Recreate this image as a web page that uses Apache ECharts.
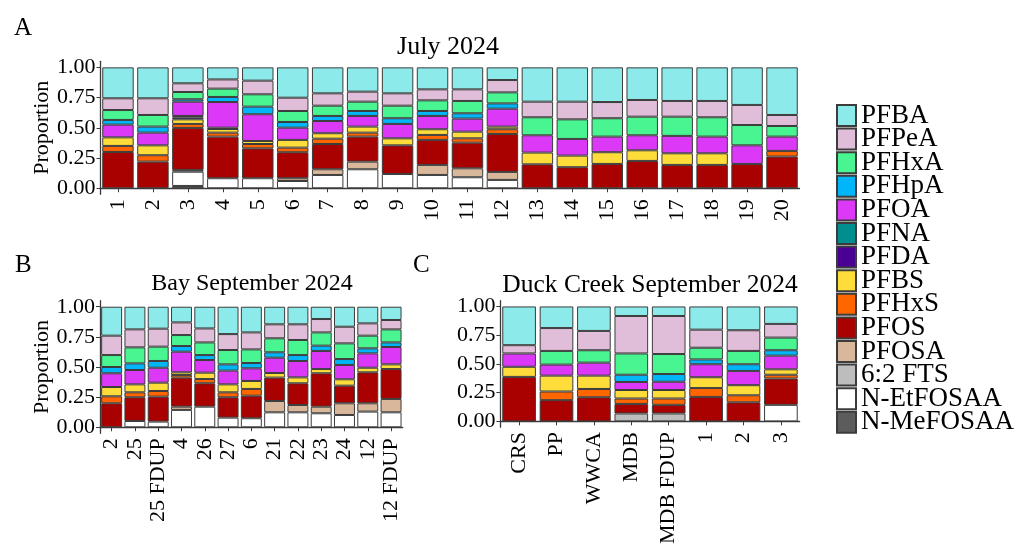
<!DOCTYPE html>
<html>
<head>
<meta charset="utf-8">
<script src="https://cdn.jsdelivr.net/npm/echarts@6/dist/echarts.min.js"></script>
<style>
  html, body { margin: 0; padding: 0; background: #ffffff; }
  #chart { width: 1016px; height: 547px; }
</style>
</head>
<body>
<div id="chart"></div>
<script>
// Compounds, listed from the top of each stack to the bottom
const compounds = ['PFBA', 'PFPeA', 'PFHxA', 'PFHpA', 'PFOA', 'PFNA', 'PFDA', 'PFBS',
  'PFHxS', 'PFOS', 'PFOSA', '6:2 FTS', 'N-EtFOSAA', 'N-MeFOSAA'];
const compoundColors = ['#8ceaea', '#e0bdd8', '#48f590', '#00b5f8', '#dc38f8', '#008e8e',
  '#4b0094', '#fedc3a', '#ff6600', '#a90000', '#d9b79a', '#bdbdbd', '#ffffff', '#5c5c5c'];
const proportionTicks = [0, 0.25, 0.5, 0.75, 1];

// A: July 2024
const julySites = ['1', '2', '3', '4', '5', '6', '7', '8', '9', '10',
  '11', '12', '13', '14', '15', '16', '17', '18', '19', '20'];
const julyPFBA  = [.256, .256, .132, .100, .110, .251, .215, .201, .215, .182, .182, .105, .284, .284, .287, .270, .278, .278, .311, .394];
const julyPFPeA = [.097, .138, .072, .076, .113, .110, .102, .083, .102, .091, .096, .102, .129, .146, .134, .138, .130, .135, .166, .091];
const julyPFHxA = [.082, .096, .060, .069, .102, .091, .085, .077, .104, .088, .102, .091, .149, .162, .152, .154, .159, .160, .168, .088];
const julyPFHpA = [.039, .050, .020, .042, .063, .047, .042, .041, .047, .041, .044, .044, 0, 0, 0, 0, 0, 0, 0, 0];
const julyPFOA  = [.105, .105, .118, .212, .221, .101, .101, .088, .119, .110, .108, .148, .143, .138, .129, .124, .144, .138, .154, .118];
const julyPFNA  = [0, 0, .012, 0, 0, 0, 0, 0, 0, 0, 0, 0, 0, 0, 0, 0, 0, 0, 0, 0];
const julyPFDA  = [0, 0, .016, .011, 0, 0, 0, 0, 0, 0, 0, 0, 0, 0, 0, 0, 0, 0, 0, 0];
const julyPFBS  = [.071, .082, .038, .030, .025, .064, .045, .050, .058, .047, .055, .022, .097, .096, .097, .088, .096, .096, 0, 0];
const julyPFHxS = [.050, .053, .033, .033, .036, .038, .044, .033, 0, .041, .036, .039, 0, 0, 0, 0, 0, 0, 0, .047];
const julyPFOS  = [.300, .220, .347, .344, .247, .215, .209, .207, .237, .207, .212, .314, .198, .174, .201, .226, .193, .193, .201, .262];
const julyPFOSA = [0, 0, 0, 0, 0, .023, .047, .063, 0, .083, .074, .066, 0, 0, 0, 0, 0, 0, 0, 0];
const julyFTS   = [0, 0, .015, 0, 0, 0, 0, 0, 0, 0, 0, 0, 0, 0, 0, 0, 0, 0, 0, 0];
const julyNEt   = [0, 0, .118, .083, .083, .060, .110, .157, .118, .110, .091, .069, 0, 0, 0, 0, 0, 0, 0, 0];
const julyNMe   = [0, 0, .019, 0, 0, 0, 0, 0, 0, 0, 0, 0, 0, 0, 0, 0, 0, 0, 0, 0];

// B: Bay September 2024
const baySites = ['2', '25', '25 FDUP', '4', '26', '27', '6', '21', '22', '23', '24', '12', '12 FDUP'];
const bayPFBA  = [.240, .188, .182, .130, .180, .227, .213, .146, .146, .102, .166, .138, .110];
const bayPFPeA = [.161, .149, .149, .105, .116, .132, .141, .116, .130, .111, .138, .102, .078];
const bayPFHxA = [.099, .133, .119, .091, .105, .119, .113, .116, .125, .110, .130, .105, .108];
const bayPFHpA = [.052, .055, .056, .047, .041, .052, .044, .045, .049, .044, .049, .042, .038];
const bayPFOA  = [.114, .119, .124, .171, .105, .114, .105, .127, .136, .150, .119, .119, .144];
const bayPFNA  = [0, 0, 0, 0, 0, 0, 0, 0, 0, 0, 0, 0, 0];
const bayPFDA  = [0, 0, 0, 0, 0, 0, 0, 0, 0, 0, 0, 0, 0];
const bayPFBS  = [.077, .066, .069, .022, .053, .066, .066, .038, .049, .035, .053, .038, .039];
const bayPFHxS = [.058, .041, .047, .022, .035, .041, .056, 0, 0, 0, 0, 0, 0];
const bayPFOS  = [.199, .197, .207, .241, .194, .169, .187, .194, .180, .277, .146, .257, .248];
const bayPFOSA = [0, 0, 0, .027, 0, 0, 0, .094, .061, .055, .097, .069, .111];
const bayFTS   = [0, 0, 0, 0, 0, 0, 0, 0, 0, 0, 0, 0, 0];
const bayNEt   = [0, .052, .047, .144, .171, .080, .075, .124, .124, .116, .102, .130, .124];
const bayNMe   = [0, 0, 0, 0, 0, 0, 0, 0, 0, 0, 0, 0, 0];

// C: Duck Creek September 2024
const duckSites = ['CRS', 'PP', 'WWCA', 'MDB', 'MDB FDUP', '1', '2', '3'];
const duckPFBA  = [.337, .188, .213, .083, .083, .202, .207, .152];
const duckPFPeA = [.072, .199, .168, .326, .331, .157, .180, .119];
const duckPFHxA = [0, .119, .108, .185, .174, .102, .116, .110];
const duckPFHpA = [0, 0, 0, .063, .067, .042, .058, .047];
const duckPFOA  = [.116, .096, .113, .070, .072, .113, .124, .119];
const duckPFNA  = [0, 0, 0, 0, 0, 0, 0, 0];
const duckPFDA  = [0, 0, 0, 0, 0, 0, 0, 0];
const duckPFBS  = [.088, .138, .116, .074, .074, .094, .088, .047];
const duckPFHxS = [0, .075, .072, .047, .055, .077, .061, .033];
const duckPFOS  = [.387, .185, .210, .083, .075, .213, .166, .229];
const duckPFOSA = [0, 0, 0, 0, 0, 0, 0, 0];
const duckFTS   = [0, 0, 0, .069, .069, 0, 0, 0];
const duckNEt   = [0, 0, 0, 0, 0, 0, 0, .144];
const duckNMe   = [0, 0, 0, 0, 0, 0, 0, 0];

const panels = [
  { sites: julySites, values: [julyPFBA, julyPFPeA, julyPFHxA, julyPFHpA, julyPFOA, julyPFNA, julyPFDA,
      julyPFBS, julyPFHxS, julyPFOS, julyPFOSA, julyFTS, julyNEt, julyNMe], yName: 'Proportion' },
  { sites: baySites, values: [bayPFBA, bayPFPeA, bayPFHxA, bayPFHpA, bayPFOA, bayPFNA, bayPFDA,
      bayPFBS, bayPFHxS, bayPFOS, bayPFOSA, bayFTS, bayNEt, bayNMe], yName: 'Proportion' },
  { sites: duckSites, values: [duckPFBA, duckPFPeA, duckPFHxA, duckPFHpA, duckPFOA, duckPFNA, duckPFDA,
      duckPFBS, duckPFHxS, duckPFOS, duckPFOSA, duckFTS, duckNEt, duckNMe], yName: '' }
];

const serif = '"Liberation Serif", "Times New Roman", "DejaVu Serif", serif';
const lineColor = '#3a3a3a';

const grids = [
  { left: 100.5, top: 61.3, width: 699, height: 133 },
  { left: 100, top: 300.7, width: 302.7, height: 132.6 },
  { left: 500.4, top: 300.7, width: 299.2, height: 132.6 }
];

const xAxes = panels.map((p, i) => ({
  type: 'category',
  gridIndex: i,
  data: p.sites,
  axisLine: { show: true, lineStyle: { color: lineColor, width: 1.3 } },
  axisTick: { show: true, alignWithLabel: true, length: 4, lineStyle: { color: lineColor, width: 1 } },
  axisLabel: { rotate: 90, interval: 0, margin: 5, fontSize: 22, fontFamily: serif, color: '#000' },
  splitLine: { show: false }
}));

const yAxes = panels.map((p, i) => ({
  type: 'value',
  gridIndex: i,
  min: -0.05,
  max: 1.05,
  name: p.yName,
  nameLocation: 'middle',
  nameRotate: 90,
  nameGap: 47,
  nameMoveOverlap: false,
  nameTextStyle: { fontSize: 22, fontFamily: serif, color: '#000' },
  splitLine: { show: false },
  axisLine: { show: true, lineStyle: { color: lineColor, width: 1.3 } },
  axisTick: { show: true, customValues: proportionTicks, length: 4, lineStyle: { color: lineColor, width: 1 } },
  axisLabel: {
    customValues: proportionTicks,
    formatter: v => Number(v).toFixed(2),
    fontSize: 22, fontFamily: serif, color: '#000', margin: 5
  }
}));

// Stack from the bottom compound upward so PFBA sits on top
const series = [];
panels.forEach((p, i) => {
  for (let c = compounds.length - 1; c >= 0; c--) {
    series.push({
      type: 'bar',
      name: compounds[c],
      xAxisIndex: i,
      yAxisIndex: i,
      stack: 'panel' + i,
      barCategoryGap: '10%',
      data: p.values[c].map(v => (v > 0 ? v : null)),
      itemStyle: { color: compoundColors[c], borderColor: '#3c3c3c', borderWidth: 1 },
      emphasis: { disabled: true },
      silent: true
    });
  }
});

const titleText = { fontFamily: serif, fontWeight: 'normal', color: '#000' };

const option = {
  animation: false,
  backgroundColor: '#ffffff',
  title: [
    { text: 'A', left: 14, top: 16, padding: 0, textStyle: Object.assign({ fontSize: 25 }, titleText) },
    { text: 'July 2024', left: 448, top: 34, padding: 0, textAlign: 'center', textStyle: Object.assign({ fontSize: 26 }, titleText) },
    { text: 'B', left: 15, top: 253, padding: 0, textStyle: Object.assign({ fontSize: 25 }, titleText) },
    { text: 'Bay September 2024', left: 252, top: 272, padding: 0, textAlign: 'center', textStyle: Object.assign({ fontSize: 24 }, titleText) },
    { text: 'C', left: 413, top: 253, padding: 0, textStyle: Object.assign({ fontSize: 25 }, titleText) },
    { text: 'Duck Creek September 2024', left: 650, top: 272, padding: 0, textAlign: 'center', textStyle: Object.assign({ fontSize: 25.5 }, titleText) }
  ],
  legend: {
    orient: 'vertical',
    left: 836,
    top: 102,
    padding: 0,
    icon: 'rect',
    itemWidth: 19,
    itemHeight: 21,
    itemGap: -3.4,
    selectedMode: false,
    data: compounds,
    textStyle: { fontFamily: serif, fontSize: 27, color: '#000' }
  },
  grid: grids,
  xAxis: xAxes,
  yAxis: yAxes,
  series: series
};

const chart = echarts.init(document.getElementById('chart'), null, { renderer: 'canvas' });
chart.setOption(option);
</script>
</body>
</html>
